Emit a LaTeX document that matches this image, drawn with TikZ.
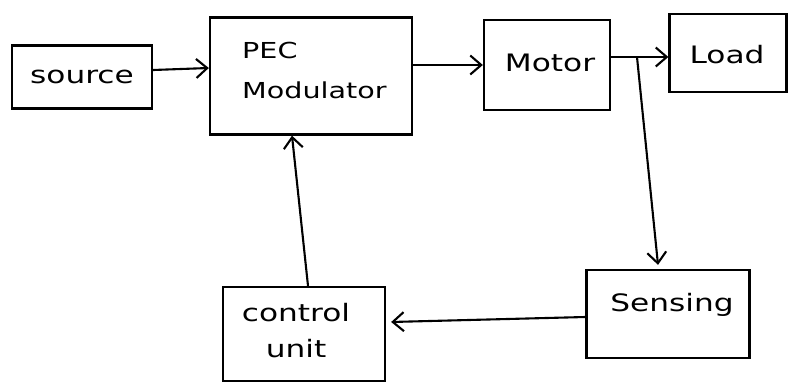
\documentclass[tikz,border=0pt]{standalone}
\usepackage{fontspec}
\newfontfamily\handfont[FakeStretch=1.3]{DejaVu Sans}
\usetikzlibrary{arrows.meta,calc}
\begin{document}
\begin{tikzpicture}[x=1pt,y=-1pt,
  blockbox/.style={draw, line width=2.3pt, rectangle, inner sep=0pt},
  lbl/.style={font=\handfont\fontsize{24}{36}\selectfont, inner sep=0pt, align=center},
  lblleft/.style={font=\handfont\fontsize{22}{40}\selectfont, inner sep=0pt, align=left},
  arr/.style={line width=2.1pt, -{Straight Barb[length=11pt,width=19pt,line width=2.1pt]}},
  conn/.style={line width=2.1pt}]
\useasboundingbox[fill=white] (0,0) rectangle (797,385);
% blocks
\node[blockbox, minimum width=140pt, minimum height=63pt] (source) at (82,77) {};
\node[blockbox, minimum width=202pt, minimum height=117pt] (pec) at (311,76) {};
\node[blockbox, minimum width=126pt, minimum height=90pt] (motor) at (547,65) {};
\node[blockbox, minimum width=117pt, minimum height=78pt] (load) at (728,53) {};
\node[blockbox, minimum width=163pt, minimum height=88pt] (sensing) at (668,314) {};
\node[blockbox, minimum width=162pt, minimum height=94pt] (control) at (304,334) {};
% texts
\node[lbl] (sourcetext) at (82,77) {source};
\node[lblleft, anchor=north west] (pectext) at (242,42) {PEC\\Modulator};
\node[lbl] (motortext) at (550,63) {Motor};
\node[lbl] (loadtext) at (727,55) {Load};
\node[lbl] (sensingtext) at (672,305) {Sensing};
\node[lbl] (controltext) at (296,331) {control\\unit};
% connectors
\coordinate (junction) at (637,57);
\draw[arr] ($(source.east)+(0,-7)$) -- ($(pec.west)+(0,-8)$);
\draw[arr] ($(pec.east)+(0,-11)$) -- ($(motor.west)+(0,0)$);
\draw[arr] ($(motor.east)+(0,-8)$) -- ($(load.west)+(0,4)$);
\draw[arr] (junction) -- ($(sensing.north)+(-10,-4)$);
\draw[arr] ($(sensing.west)+(0,3)$) -- ($(control.east)+(5,-12)$);
\draw[arr] ($(control.north)+(4,0)$) -- ($(pec.south)+(-19,0)$);
\end{tikzpicture}
\end{document}
